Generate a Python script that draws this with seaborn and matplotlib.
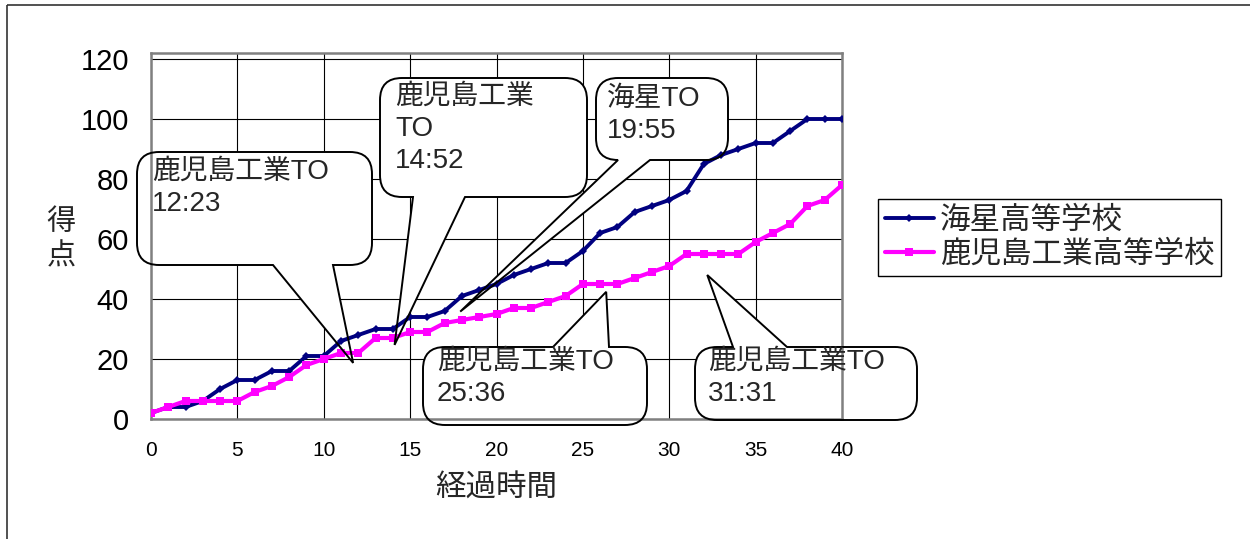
import matplotlib
matplotlib.use('Agg')
import matplotlib.pyplot as plt
import matplotlib.transforms as mtransforms
from matplotlib.path import Path
from matplotlib.patches import PathPatch, Rectangle
import seaborn as sns

# ---------------- data ----------------
minutes = [0, 1, 2, 3, 4, 5, 6, 7, 8, 9, 10, 11, 12, 13, 14, 15, 16, 17, 18, 19, 20,
           21, 22, 23, 24, 25, 26, 27, 28, 29, 30, 31, 32, 33, 34, 35, 36, 37, 38, 39, 40]
kaisei = [2, 4, 4, 6, 10, 13, 13, 16, 16, 21, 21, 26, 28, 30, 30, 34, 34, 36, 41, 43, 45,
          48, 50, 52, 52, 56, 62, 64, 69, 71, 73, 76, 85, 88, 90, 92, 92, 96, 100, 100, 100]
kagoshima = [2, 4, 6, 6, 6, 6, 9, 11, 14, 18, 20, 22, 22, 27, 27, 29, 29, 32, 33, 34, 35,
             37, 37, 39, 41, 45, 45, 45, 47, 49, 51, 55, 55, 55, 55, 59, 62, 65, 71, 73, 78]
series_names = ['海星高等学校', '鹿児島工業高等学校']
x_ticks = [0, 5, 10, 15, 20, 25, 30, 35, 40]
y_ticks = [0, 20, 40, 60, 80, 100, 120]
x_label = '経過時間'
y_label = '得\n点'
callout_texts = ['鹿児島工業TO\n12:23', '鹿児島工業\nTO\n14:52', '海星TO\n19:55',
                 '鹿児島工業TO\n25:36', '鹿児島工業TO\n31:31']
callout_tips = [(11.7, 18.7), (14.1, 24.7), (17.9, 35.8), (26.35, 42.4), (32.2, 48.0)]

# ---------------- style ----------------
sns.set_style('white')
plt.rcParams['font.family'] = ['Liberation Sans', 'Noto Sans CJK JP']

W, H = 1250, 539
fig = plt.figure(figsize=(W / 100, H / 100), dpi=100)
fig.patch.set_facecolor('white')
px = mtransforms.Affine2D().scale(1 / W, -1 / H).translate(0, 1) + fig.transFigure

ax = fig.add_axes([151 / W, 1 - 419 / H, (842 - 151) / W, (419 - 53) / H])
ax.set_facecolor('white')

sns.lineplot(x=minutes, y=kaisei, ax=ax, color='#000080', lw=2.8, marker='D',
             markersize=4, markeredgewidth=0, label=series_names[0], zorder=3)
sns.lineplot(x=minutes, y=kagoshima, ax=ax, color='#FF00FF', lw=3.0, marker='s',
             markersize=5.5, markeredgewidth=0, label=series_names[1], zorder=3)

ax.set_xlim(0, 40)
ax.set_ylim(0, 122)
ax.set_xticks(x_ticks)
ax.set_yticks(y_ticks)
ax.set_xlabel('')
ax.set_ylabel('')
ax.grid(True, color='black', lw=0.8)
ax.set_axisbelow(True)
for s in ax.spines.values():
    s.set_color('#808080')
    s.set_linewidth(1.8)
ax.tick_params(axis='x', labelsize=15, pad=16, length=0, colors='black')
ax.tick_params(axis='y', labelsize=21, pad=16, length=0, colors='black')

fig.text(496 / W, 1 - 489 / H, x_label, fontsize=22, ha='center', va='center')
fig.text(61 / W, 1 - 239 / H, y_label, fontsize=21, ha='center', va='center',
         linespacing=1.3)

leg = ax.legend(loc='upper left', bbox_to_anchor=(878 / W, 1 - 199 / H),
                bbox_transform=fig.transFigure, frameon=True, fancybox=False,
                edgecolor='black', framealpha=1, fontsize=22, borderaxespad=0,
                handlelength=1.6, handletextpad=0.2, borderpad=0.22, labelspacing=0.12)
leg.get_frame().set_linewidth(1.0)

# ---------------- callouts ----------------
boxes = [(137, 152, 372, 265, 'bottom', 273, 333),
         (380, 78, 587, 197, 'bottom', 413, 465),
         (596, 78, 728, 160, 'bottom', 618, 650),
         (423, 347, 647, 425, 'top', 553, 609),
         (695, 347, 917, 420, 'top', 733, 787)]
text_pos = [(152, 159), (395, 84), (607, 86), (437, 349), (708, 349)]


def bubble_path(x0, y0, x1, y1, side, b0, b1, tip, r=22):
    V, C = [], []
    V.append((x0 + r, y0)); C.append(Path.MOVETO)
    if side == 'top':
        V += [(b0, y0), tip, (b1, y0)]; C += [Path.LINETO] * 3
    V.append((x1 - r, y0)); C.append(Path.LINETO)
    V += [(x1, y0), (x1, y0 + r)]; C += [Path.CURVE3] * 2
    V.append((x1, y1 - r)); C.append(Path.LINETO)
    V += [(x1, y1), (x1 - r, y1)]; C += [Path.CURVE3] * 2
    if side == 'bottom':
        V += [(b1, y1), tip, (b0, y1)]; C += [Path.LINETO] * 3
    V.append((x0 + r, y1)); C.append(Path.LINETO)
    V += [(x0, y1), (x0, y1 - r)]; C += [Path.CURVE3] * 2
    V.append((x0, y0 + r)); C.append(Path.LINETO)
    V += [(x0, y0), (x0 + r, y0)]; C += [Path.CURVE3] * 2
    V.append((x0 + r, y0)); C.append(Path.CLOSEPOLY)
    return Path(V, C)


for (x0, y0, x1, y1, side, b0, b1), tipd, txt, (tx, ty) in zip(boxes, callout_tips,
                                                               callout_texts, text_pos):
    dx, dy = ax.transData.transform(tipd)
    tip = (dx, H - dy)
    p = bubble_path(x0, y0, x1, y1, side, b0, b1, tip)
    ax.add_patch(PathPatch(p, transform=px, facecolor='white', edgecolor='none',
                           zorder=1.5, clip_on=False))
    ax.add_patch(PathPatch(p, transform=px, facecolor='none', edgecolor='black',
                           lw=1.4, zorder=4, clip_on=False))
    ax.text(tx, ty, txt, transform=px, fontsize=20, ha='left', va='top',
            linespacing=1.3, zorder=5, clip_on=False)

# outer chart frame
fig.add_artist(Rectangle((7, 5), 1300, 600, transform=px, fill=False,
                         edgecolor='#333333', lw=1.2))

fig.savefig('out.png', dpi=100)
